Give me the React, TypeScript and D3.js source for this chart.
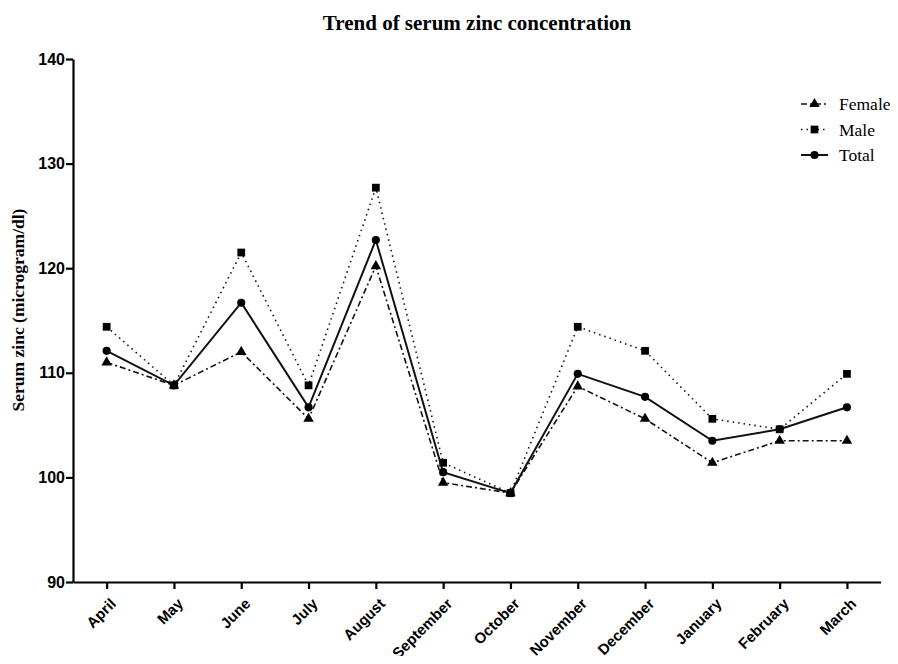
import React, { useEffect, useRef } from "react";
import * as d3 from "d3";

const months = [
  "April", "May", "June", "July", "August", "September",
  "October", "November", "December", "January", "February", "March",
];
const female = [111.0, 108.8, 112.0, 105.6, 120.2, 99.5, 98.5, 108.7, 105.6, 101.4, 103.5, 103.5];
const male = [114.4, 108.8, 121.5, 108.8, 127.7, 101.4, 98.5, 114.4, 112.1, 105.6, 104.6, 109.9];
const total = [112.1, 108.8, 116.7, 106.7, 122.7, 100.5, 98.5, 109.9, 107.7, 103.5, 104.6, 106.7];
const yTicks = [90, 100, 110, 120, 130, 140];

const series = [
  { name: "Female", values: female, dash: "6,3,2,3", width: 1.6, symbol: d3.symbolTriangle, size: 48 },
  { name: "Male", values: male, dash: "1.5,4", width: 1.6, symbol: d3.symbolSquare, size: 60 },
  { name: "Total", values: total, dash: "", width: 2, symbol: d3.symbolCircle, size: 52 },
];

const W = 898;
const H = 664;

export default function App() {
  const ref = useRef<SVGSVGElement>(null);

  useEffect(() => {
    const svg = d3.select(ref.current);
    svg.selectAll("*").remove();

    const left = 73, right = 880.6, top = 59, bottom = 582;
    const x = d3.scalePoint<string>().domain(months).range([left, right]).padding(0.5);
    const y = d3.scaleLinear().domain([90, 140]).range([bottom, top]);

    svg.append("text")
      .attr("x", 477).attr("y", 30)
      .attr("text-anchor", "middle")
      .style("font-family", "'Liberation Serif', 'Times New Roman', serif")
      .style("font-weight", "bold").style("font-size", "21px")
      .text("Trend of serum zinc concentration");

    const yAxis = svg.append("g")
      .attr("transform", `translate(${left},0)`)
      .call(d3.axisLeft(y).tickValues(yTicks).tickSize(7).tickPadding(1).tickSizeOuter(0));
    yAxis.select(".domain").attr("stroke-width", 2.2);
    yAxis.selectAll(".tick line").attr("stroke-width", 2.2);
    yAxis.selectAll(".tick text")
      .style("font-family", "'Liberation Sans', Arial, sans-serif")
      .style("font-weight", "bold").style("font-size", "16px").attr("fill", "#000");

    const xAxis = svg.append("g")
      .attr("transform", `translate(0,${bottom})`)
      .call(d3.axisBottom(x).tickSize(7).tickSizeOuter(0));
    xAxis.select(".domain").attr("stroke-width", 2.2);
    xAxis.selectAll(".tick line").attr("stroke-width", 2.2);
    xAxis.selectAll(".tick text")
      .style("font-family", "'Liberation Sans', Arial, sans-serif")
      .style("font-weight", "bold").style("font-size", "15px").attr("fill", "#000")
      .attr("text-anchor", "end")
      .attr("x", 0).attr("y", 0)
      .attr("dy", "0.35em")
      .attr("transform", "translate(6,19) rotate(-45)");

    svg.append("text")
      .attr("transform", `translate(24,${310}) rotate(-90)`)
      .attr("text-anchor", "middle")
      .style("font-family", "'Liberation Serif', 'Times New Roman', serif")
      .style("font-weight", "bold").style("font-size", "17.5px")
      .text("Serum zinc (microgram/dl)");

    const line = d3.line<number>()
      .x((_, i) => x(months[i]) as number)
      .y((d) => y(d));

    series.forEach((s) => {
      svg.append("path")
        .datum(s.values)
        .attr("d", line)
        .attr("fill", "none")
        .attr("stroke", "#111")
        .attr("stroke-width", s.width)
        .attr("stroke-dasharray", s.dash || null);
      svg.append("g")
        .selectAll("path")
        .data(s.values)
        .enter()
        .append("path")
        .attr("d", d3.symbol().type(s.symbol).size(s.size))
        .attr("transform", (d, i) => `translate(${x(months[i])},${y(d)})`)
        .attr("fill", "#000");
    });

    const legend = svg.append("g").attr("transform", "translate(801,104)");
    series.forEach((s, i) => {
      const g = legend.append("g").attr("transform", `translate(0,${i * 25.5})`);
      g.append("line")
        .attr("x1", 0).attr("x2", 27).attr("y1", 0).attr("y2", 0)
        .attr("stroke", "#111").attr("stroke-width", s.width)
        .attr("stroke-dasharray", s.dash || null);
      g.append("path")
        .attr("d", d3.symbol().type(s.symbol).size(s.size))
        .attr("transform", "translate(13.5,0)")
        .attr("fill", "#000");
      g.append("text")
        .attr("x", 38).attr("y", 0).attr("dy", "0.35em")
        .style("font-family", "'Liberation Serif', 'Times New Roman', serif")
        .style("font-size", "17.5px")
        .text(s.name);
    });
  }, []);

  return <svg ref={ref} width={W} height={H} style={{ display: "block", margin: -8 }} />;
}
